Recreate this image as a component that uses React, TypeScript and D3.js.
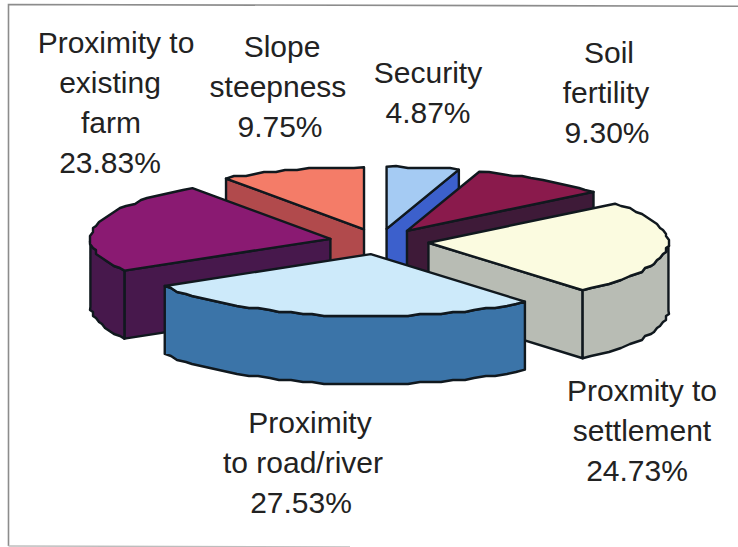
import React from "react";
import * as d3 from "d3";

// Weighted criteria, in drawing order clockwise from twelve o'clock.
const names = ["Security", "Soil fertility", "Proxmity to settlement", "Proximity to road/river", "Proximity to existing farm", "Slope steepness"];
const shares = [4.87, 9.3, 24.73, 27.53, 23.83, 9.75];
const topColors = ["#a5cbf3", "#8a1a4c", "#fbfbe0", "#cdeafa", "#8a1a72", "#f47c68"];
const wallColors = ["#3c60cc", "#3e1a38", "#b8bcb4", "#3b74a8", "#47184c", "#b14a4c"];

const labelLines = [
  ["Security", "4.87%"],
  ["Soil", "fertility", "9.30%"],
  ["Proxmity to", "settlement", "24.73%"],
  ["Proximity", "to road/river", "27.53%"],
  ["Proximity to", "existing", "farm", "23.83%"],
  ["Slope", "steepness", "9.75%"],
];
const labelX = [
  [428, 428],
  [609, 606, 607],
  [642, 642, 637],
  [310, 303, 301],
  [116, 110, 111, 110],
  [282, 278, 280],
];
const labelY = [83, 63, 401, 433, 53, 57];

const WIDTH = 738;
const HEIGHT = 547;
const CX = 379;
const CY = 241.5;
const RX = 240;
const RY = 62;
const DEPTH = 68;
const EXPLODE = 0.207;
const LINE_GAP = 40;

type Pt = [number, number];

const project = (a: number, r: number, ox: number, oy: number): Pt => [
  ox + r * RX * Math.sin(a),
  oy - r * RY * Math.cos(a),
];

// Rim vertices are snapped to a coarse grid, which gives the stepped edge of the old raster chart.
const snap = ([x, y]: Pt): Pt => [Math.round(x / 3) * 3, Math.round(y / 2) * 2];

const pathOf = d3.line<Pt>().x((p) => p[0]).y((p) => p[1]);

function arcPoints(a0: number, a1: number, ox: number, oy: number): Pt[] {
  const steps = Math.max(1, Math.ceil((a1 - a0) / 0.05));
  return d3.range(steps + 1).map((i) => {
    const p = project(a0 + ((a1 - a0) * i) / steps, 1, ox, oy);
    return i === 0 || i === steps ? p : snap(p);
  });
}

const drop = (pts: Pt[]): Pt[] => pts.map(([x, y]) => [x, y + DEPTH]);

const wall = (pts: Pt[]) => pathOf([...pts, ...drop(pts).reverse()])! + "Z";

export default function App() {
  const arcs = d3.pie<number>().sort(null)(shares);
  const ordered = arcs
    .map((arc, i) => ({ arc, i, mid: (arc.startAngle + arc.endAngle) / 2 }))
    .sort((a, b) => d3.descending(Math.cos(a.mid), Math.cos(b.mid)));

  return (
    <svg
      width={WIDTH}
      height={HEIGHT}
      style={{ position: "absolute", left: 0, top: 0, background: "#fff", fontFamily: "'Liberation Sans', Arial, sans-serif" }}
    >
      <path d={`M${WIDTH},6.2L8.5,4.5V546`} fill="none" stroke="#8c8c8c" strokeWidth={1.6} />
      <path d="M8.5,546L350,547" fill="none" stroke="#bdbdbd" strokeWidth={1.4} />
      {ordered.map(({ arc, i, mid }) => {
        const ox = CX + EXPLODE * RX * Math.sin(mid);
        const oy = CY - EXPLODE * RY * Math.cos(mid);
        const apex: Pt = [ox, oy];
        const a0 = arc.startAngle;
        const a1 = arc.endAngle;
        const start = project(a0, 1, ox, oy);
        const end = project(a1, 1, ox, oy);
        const rimAll = arcPoints(a0, a1, ox, oy);
        // Only the front half of the rim faces the viewer.
        const f0 = Math.max(a0, Math.PI / 2);
        const f1 = Math.min(a1, (3 * Math.PI) / 2);
        const stroke = { stroke: "#10181e", strokeWidth: 2.4, strokeLinejoin: "round" as const };
        return (
          <g key={names[i]}>
            {Math.sin(a1) > 0.01 && <path d={wall([apex, end])} fill={wallColors[i]} {...stroke} />}
            {Math.sin(a0) < -0.01 && <path d={wall([apex, start])} fill={wallColors[i]} {...stroke} />}
            {f1 > f0 && <path d={wall(arcPoints(f0, f1, ox, oy))} fill={wallColors[i]} {...stroke} />}
            <path d={pathOf([apex, ...rimAll])! + "Z"} fill={topColors[i]} {...stroke} />
          </g>
        );
      })}
      {labelLines.map((lines, i) => (
        <text key={names[i]} textAnchor="middle" fontSize={30} fill="#222">
          {lines.map((line, j) => (
            <tspan key={j} x={labelX[i][j]} y={labelY[i] + j * LINE_GAP}>
              {line}
            </tspan>
          ))}
        </text>
      ))}
    </svg>
  );
}
